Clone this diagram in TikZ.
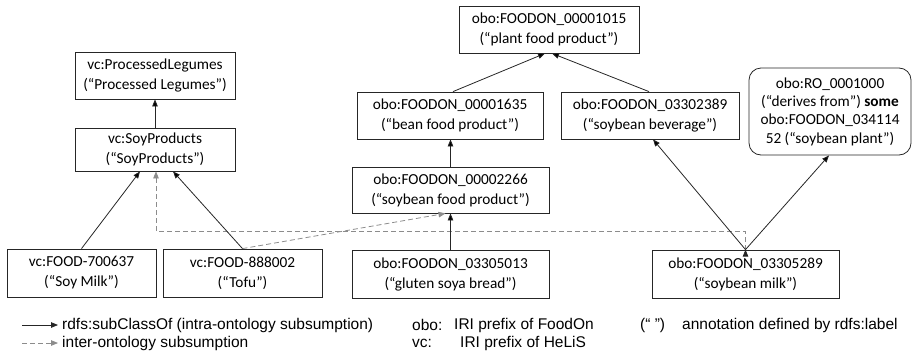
\documentclass[tikz,border=0pt]{standalone}
\usepackage{fontspec}
\setmainfont{Carlito}
\newfontfamily\legendfont{Liberation Sans}
\usetikzlibrary{arrows.meta}

\begin{document}
\begin{tikzpicture}[x=1pt,y=-1pt]
	\tikzstyle{cls} = [draw=black!85, line width=0.8pt, rectangle, align=center, font=\fontsize{15.3}{20}\selectfont, inner sep=2pt, minimum height=47pt]
	\tikzstyle{sub} = [draw=black!85, line width=0.8pt, -{Triangle[length=7pt,width=5.5pt]}]
	\tikzstyle{inter} = [sub, draw=black!45, dash pattern=on 5pt off 3pt]
	\tikzstyle{legend} = [anchor=west, inner sep=0pt, font=\legendfont\fontsize{15.5}{18}\selectfont]
	\useasboundingbox (0,0) rectangle (912,354);
		% HeLiS classes
		\node[cls, minimum width=160pt] (pl) at (155,75.5) {vc:ProcessedLegumes\\(“Processed Legumes”)};
		\node[cls, minimum width=160pt, minimum height=43pt] (sp) at (155,149.5) {vc:SoyProducts\\(“SoyProducts”)};
		\node[cls, minimum width=149pt, minimum height=48pt] (fa) at (81.5,273) {vc:FOOD-700637\\(“Soy Milk”)};
		\node[cls, minimum width=159pt, minimum height=48pt] (fb) at (242.5,273) {vc:FOOD-888002\\(“Tofu”)};
		% FoodOn classes
		\node[cls, minimum width=180pt] (pfp) at (549,29.5) {obo:FOODON\_00001015\\(“plant food product”)};
		\node[cls, minimum width=186pt] (bfp) at (450,115.5) {obo:FOODON\_00001635\\(“bean food product”)};
		\node[cls, minimum width=178pt] (sbv) at (650,115.5) {obo:FOODON\_03302389\\(“soybean beverage”)};
		\node[cls, rounded corners=12pt, minimum width=162pt, minimum height=87pt, font=\fontsize{15.3}{18.3}\selectfont] (ro) at (830,111.5) {obo:RO\_0001000\\(“derives from”) \textbf{some}\\obo:FOODON\_034114\\52 (“soybean plant”)};
		\node[cls, minimum width=197pt, minimum height=46pt] (sfp) at (450.5,190) {obo:FOODON\_00002266\\(“soybean food product”)};
		\node[cls, minimum width=197pt, minimum height=48pt] (gsb) at (450.5,274) {obo:FOODON\_03305013\\(“gluten soya bread”)};
		\node[cls, minimum width=187pt, minimum height=48pt] (sm) at (745.5,274) {obo:FOODON\_03305289\\(“soybean milk”)};
	\coordinate (dr) at (745,231);
	\coordinate (dl) at (156,231);
	\draw [inter] (sm.north -| dr) -- (dr) -- (dl) -- (dl |- sp.south);
	\draw [inter] (fb.north) -- ([xshift=-5pt]sfp.south);
	\path [sub] (sp) edge (pl)
		  (fa.north) edge ([xshift=-15pt]sp.south)
		  (fb.north) edge ([xshift=18pt]sp.south)
		  (gsb.north) edge (sfp.south)
		  (sfp.north) edge (sfp.north |- bfp.south)
		  ([xshift=3pt]bfp.north) edge ([xshift=-4pt]pfp.south)
		  ([xshift=-1pt]sbv.north) edge ([xshift=3pt]pfp.south)
		  (sm.north) edge ([xshift=3pt]sbv.south)
		  (sm.north) edge ([xshift=-1pt]ro.south);
	% legend
	\coordinate (k1a) at (22,325);
	\coordinate (k1b) at (58,325);
	\coordinate (k2a) at (22,343);
	\coordinate (k2b) at (58,343);
	\draw [sub] (k1a) -- (k1b);
	\draw [inter] (k2a) -- (k2b);
		\node[legend] (k1) at (62,325) {rdfs:subClassOf (intra-ontology subsumption)};
		\node[legend] (k2) at (62,343) {inter-ontology subsumption};
		\node[legend] (obo) at (412,325) {obo:};
		\node[legend] (obot) at (454,325) {IRI prefix of FoodOn};
		\node[legend] (vc) at (412,343) {vc:};
		\node[legend] (vct) at (460,343) {IRI prefix of HeLiS};
		\node[legend] (q) at (640,325) {(“ ”)};
		\node[legend] (qt) at (682,325) {annotation defined by rdfs:label};
	\end{tikzpicture}
\end{document}
